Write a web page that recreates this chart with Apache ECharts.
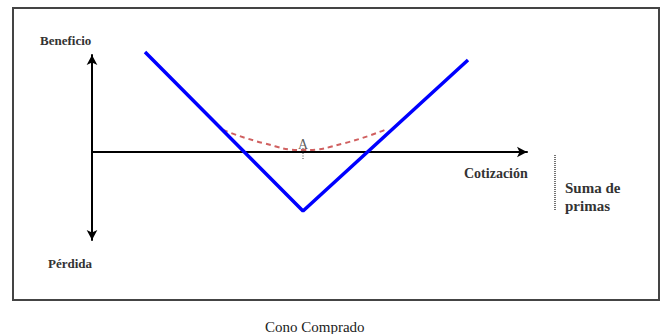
<!DOCTYPE html>
<html>
<head>
<meta charset="utf-8">
<script src="https://cdn.jsdelivr.net/npm/echarts@6/dist/echarts.min.js"></script>
<style>html,body{margin:0;padding:0;background:#fff}#c{width:663px;height:334px}</style>
</head>
<body>
<div id="c"></div>
<script>
// Payoff of a long cone (straddle), schematic units
var cotizacion = [10.6, 42.2, 75.2];
var beneficio = [100, -59, 92];
var curvaX = [26.2, 34.2, 42.2, 50.6, 59];
var curvaY = [22, 9, 2, 9, 23];
var puntoA = [[42.2, 2]];
var marcaA = [[42.2, 4], [42.2, -8]];
var primasX = [92.6, 92.6];
var primasY = [-3, -58];

var serif = '"Liberation Serif","Times New Roman",serif';
var chart = echarts.init(document.getElementById('c'), null, {renderer: 'svg'});
var hiddenAxis = {axisLine: {show: false}, axisTick: {show: false}, axisLabel: {show: false}, splitLine: {show: false}};
chart.setOption({
  animation: false,
  backgroundColor: '#fff',
  grid: [
    {left: 92, top: 55, width: 435, height: 185, containLabel: false},
    {left: 92, top: 55, width: 500, height: 185, containLabel: false}
  ],
  xAxis: [{
    type: 'value', min: 0, max: 87, gridIndex: 0,
    axisLine: {onZero: true, symbol: ['none', 'arrow'], symbolSize: [8, 10], lineStyle: {color: '#000', width: 2}},
    axisTick: {show: false}, axisLabel: {show: false}, splitLine: {show: false}
  }, Object.assign({type: 'value', min: 0, max: 100, gridIndex: 1}, hiddenAxis)],
  yAxis: [{
    type: 'value', min: -88, max: 97, gridIndex: 0,
    axisLine: {show: true, onZero: false, symbol: ['arrow', 'arrow'], symbolSize: [8, 10], lineStyle: {color: '#000', width: 2}},
    axisTick: {show: false}, axisLabel: {show: false}, splitLine: {show: false}
  }, Object.assign({type: 'value', min: -88, max: 97, gridIndex: 1}, hiddenAxis)],
  series: [
    {
      type: 'line', clip: false, symbol: 'none', smooth: true,
      data: curvaX.map(function (x, i) { return [x, curvaY[i]]; }),
      lineStyle: {color: '#d06060', width: 2, type: [5, 4]}
    },
    {
      type: 'line', clip: false, symbol: 'none',
      data: cotizacion.map(function (x, i) { return [x, beneficio[i]]; }),
      lineStyle: {color: '#0000ff', width: 3.5}
    },
    {
      type: 'line', clip: false, symbol: 'none', data: marcaA,
      lineStyle: {color: '#444', width: 1, type: [1, 1.5]}
    },
    {
      type: 'scatter', clip: false, symbolSize: 0, data: puntoA,
      label: {show: true, formatter: 'A', position: 'top', distance: -1,
        fontFamily: serif, fontSize: 14, color: '#333'}
    },
    {
      type: 'line', clip: false, symbol: 'none', xAxisIndex: 1, yAxisIndex: 1,
      data: primasX.map(function (x, i) { return [x, primasY[i]]; }),
      lineStyle: {color: '#444', width: 1.5, type: [1, 1]}
    }
  ],
  graphic: [
    {type: 'rect', shape: {x: 13, y: 8, width: 646, height: 292}, style: {fill: 'none', stroke: '#444', lineWidth: 2}},
    {type: 'text', x: 40, y: 40, style: {text: 'Beneficio', font: 'bold 13px ' + serif, fill: '#333', textVerticalAlign: 'middle'}},
    {type: 'text', x: 48, y: 263, style: {text: 'Pérdida', font: 'bold 13px ' + serif, fill: '#333', textVerticalAlign: 'middle'}},
    {type: 'text', x: 464, y: 173, style: {text: 'Cotización', font: 'bold 14px ' + serif, fill: '#333', textVerticalAlign: 'middle'}},
    {type: 'text', x: 565, y: 188, style: {text: 'Suma de', font: 'bold 15px ' + serif, fill: '#333', textVerticalAlign: 'middle'}},
    {type: 'text', x: 565, y: 206, style: {text: 'primas', font: 'bold 15px ' + serif, fill: '#333', textVerticalAlign: 'middle'}},
    {type: 'text', x: 265, y: 327, style: {text: 'Cono Comprado', font: '15px ' + serif, fill: '#222', textVerticalAlign: 'middle'}}
  ]
});
</script>
</body>
</html>
